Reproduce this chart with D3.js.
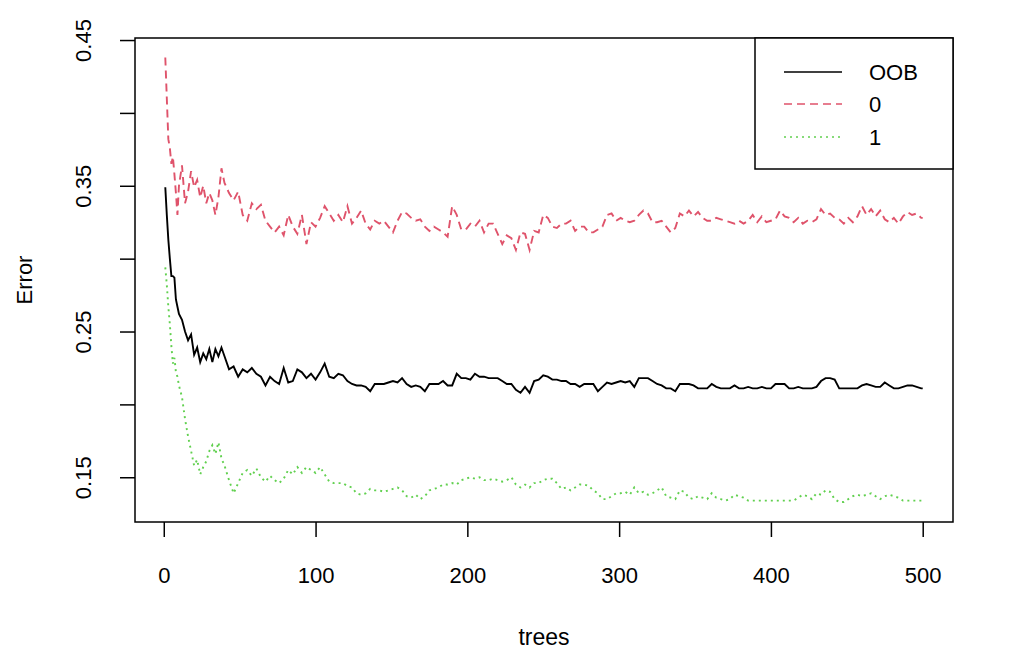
<!DOCTYPE html>
<html>
<head>
<meta charset="utf-8">
<script src="https://cdn.jsdelivr.net/npm/d3@7"></script>
<style>
  body { margin: 0; background: #fff; }
  text { font-family: "Liberation Sans", Arial, sans-serif; fill: #000; }
</style>
</head>
<body>
<svg id="chart"></svg>
<script>
var trees = [1,2,3,4,5,6,7,8,9,10,
  12,14,16,18,20,22,24,26,28,30,32,34,36,38,
  40,43,46,49,52,55,58,61,64,67,
  70,73,76,79,82,85,88,91,94,97,
  100,103,106,109,112,115,118,121,124,127,
  130,133,136,139,142,145,148,151,154,157,
  160,163,166,169,172,175,178,181,184,187,
  190,193,196,199,202,205,208,211,214,217,
  220,223,226,229,232,235,238,241,244,247,
  250,253,256,259,262,265,268,271,274,277,
  280,283,286,289,292,295,298,301,304,307,
  310,313,316,319,322,325,328,331,334,337,
  340,343,346,349,352,355,358,361,364,367,
  370,373,376,379,382,385,388,391,394,397,
  400,403,406,409,412,415,418,421,424,427,
  430,433,436,439,442,445,448,451,454,457,
  460,463,466,469,472,475,478,481,484,487,
  490,493,496,499,500];

// OOB error
var oob = [.349,.330,.313,.300,.288,.288,.287,.272,.267,.262,
  .258,.250,.244,.248,.234,.239,.229,.235,.231,.238,.229,.238,.233,.239,
  .233,.224,.226,.219,.224,.222,.225,.221,.219,.213,
  .219,.216,.214,.225,.215,.216,.224,.222,.218,.221,
  .217,.222,.228,.219,.218,.221,.220,.216,.214,.213,
  .213,.212,.209,.214,.214,.214,.215,.216,.215,.218,
  .214,.212,.213,.212,.209,.214,.214,.214,.216,.213,
  .213,.221,.218,.218,.217,.221,.219,.219,.218,.218,
  .218,.216,.214,.214,.210,.208,.212,.208,.216,.217,
  .220,.219,.217,.217,.216,.216,.214,.214,.212,.214,
  .214,.214,.209,.212,.215,.214,.215,.216,.215,.216,
  .212,.218,.218,.218,.216,.214,.213,.211,.211,.209,
  .214,.214,.214,.213,.211,.211,.211,.214,.212,.211,
  .211,.211,.213,.211,.211,.212,.211,.211,.212,.211,
  .211,.214,.214,.214,.211,.211,.212,.211,.211,.211,
  .212,.216,.218,.218,.217,.211,.211,.211,.211,.211,
  .213,.214,.213,.212,.212,.215,.213,.211,.211,.212,
  .213,.213,.212,.211,.211];

// class 0 error
var err0 = [.438,.410,.382,.376,.365,.370,.358,.345,.330,.350,
  .364,.338,.346,.360,.349,.354,.342,.350,.338,.345,.340,.330,.342,.362,
  .352,.345,.340,.346,.330,.326,.338,.334,.337,.326,
  .322,.318,.322,.316,.330,.322,.317,.330,.310,.325,
  .322,.328,.336,.331,.326,.330,.325,.336,.324,.328,
  .333,.324,.320,.326,.324,.326,.322,.318,.326,.332,
  .331,.328,.326,.327,.322,.319,.322,.320,.318,.315,
  .336,.330,.320,.320,.324,.322,.326,.318,.324,.324,
  .317,.310,.316,.314,.306,.318,.317,.306,.319,.318,
  .330,.328,.322,.321,.324,.324,.326,.319,.322,.322,
  .318,.318,.320,.322,.330,.331,.326,.328,.326,.325,
  .326,.330,.333,.331,.325,.325,.326,.322,.318,.321,
  .331,.329,.333,.329,.332,.328,.326,.326,.328,.327,
  .326,.325,.324,.326,.324,.326,.330,.325,.329,.325,
  .326,.327,.333,.329,.328,.325,.328,.324,.326,.325,
  .327,.334,.330,.331,.328,.327,.324,.328,.325,.329,
  .336,.330,.334,.329,.333,.327,.325,.328,.324,.329,
  .332,.330,.331,.328,.328];

// class 1 error
var err1 = [.294,.282,.267,.255,.240,.228,.232,.222,.219,.213,
  .205,.190,.178,.168,.158,.162,.152,.157,.161,.168,.172,.166,.174,.163,
  .158,.148,.139,.146,.153,.155,.151,.156,.150,.147,
  .151,.148,.146,.149,.155,.152,.157,.153,.157,.155,
  .153,.157,.152,.147,.146,.146,.146,.144,.143,.139,
  .138,.139,.142,.141,.141,.140,.141,.142,.143,.141,
  .137,.136,.138,.135,.137,.141,.142,.143,.145,.145,
  .146,.145,.148,.149,.150,.149,.150,.148,.148,.149,
  .148,.147,.148,.150,.145,.143,.145,.143,.146,.146,
  .148,.149,.149,.146,.142,.143,.141,.143,.145,.145,
  .144,.141,.139,.135,.135,.137,.139,.139,.140,.138,
  .143,.139,.140,.138,.139,.141,.143,.137,.136,.135,
  .141,.140,.136,.135,.137,.136,.135,.139,.136,.135,
  .134,.135,.138,.137,.136,.134,.134,.134,.134,.134,
  .134,.134,.134,.134,.134,.134,.136,.138,.137,.135,
  .139,.138,.141,.140,.135,.133,.133,.135,.137,.138,
  .137,.138,.139,.137,.135,.137,.138,.137,.136,.134,
  .134,.134,.134,.134,.134];

var seriesNames = ["OOB", "0", "1"];
var seriesColors = ["#000000", "#DF536B", "#61D04F"];
var seriesDash = [null, "8,5", "2,4"];
var xTicks = [0, 100, 200, 300, 400, 500];
var yTicks = [0.15, 0.20, 0.25, 0.30, 0.35, 0.40, 0.45];
var yLabels = [0.15, 0.25, 0.35, 0.45];

var svgWidth = 1024, svgHeight = 656;
// plot box edges (window.top is read-only, so no "top" here)
var boxLeft = 135, boxRight = 953, boxTop = 38, boxBottom = 522;

var svg = d3.select("#chart")
  .attr("width", svgWidth)
  .attr("height", svgHeight);

// R pads the data range by 4% on each side
var xPad = (500 - 1) * 0.04;
var xScale = d3.scaleLinear()
  .domain([1 - xPad, 500 + xPad])
  .range([boxLeft, boxRight]);

var yScale = d3.scaleLinear()
  .domain([0.1193, 0.4514])
  .range([boxBottom, boxTop]);

// axes, R style: ticks outside, no domain line (box drawn separately)
var xAxis = d3.axisBottom(xScale)
  .tickValues(xTicks)
  .tickSize(15)
  .tickPadding(30)
  .tickFormat(d3.format("d"));

var gx = svg.append("g")
  .attr("class", "x axis")
  .attr("transform", "translate(0," + boxBottom + ")")
  .call(xAxis);
gx.select(".domain").remove();
gx.selectAll("line").attr("stroke", "#000").attr("stroke-width", 1.5);
gx.selectAll("text").attr("font-size", "22px").attr("fill", "#000");

var yAxis = d3.axisLeft(yScale)
  .tickValues(yTicks)
  .tickSize(15)
  .tickFormat(function(d) {
    return yLabels.some(function(v) { return Math.abs(v - d) < 1e-9; }) ? d3.format(".2f")(d) : "";
  });

var gy = svg.append("g")
  .attr("class", "y axis")
  .attr("transform", "translate(" + boxLeft + ",0)")
  .call(yAxis);
gy.select(".domain").remove();
gy.selectAll("line").attr("stroke", "#000").attr("stroke-width", 1.5);
gy.selectAll("text")
  .attr("font-size", "22px")
  .attr("fill", "#000")
  .attr("text-anchor", "middle")
  .attr("x", 0).attr("dy", 0)
  .attr("transform", "translate(-44,0) rotate(-90)");

// box
svg.append("rect")
  .attr("x", boxLeft).attr("y", boxTop)
  .attr("width", boxRight - boxLeft).attr("height", boxBottom - boxTop)
  .attr("fill", "none").attr("stroke", "#000").attr("stroke-width", 1.5);

// axis titles
svg.append("text")
  .attr("x", (boxLeft + boxRight) / 2).attr("y", 645)
  .attr("text-anchor", "middle")
  .attr("font-size", "23px")
  .text("trees");

svg.append("text")
  .attr("transform", "translate(32," + (boxTop + boxBottom) / 2 + ") rotate(-90)")
  .attr("text-anchor", "middle")
  .attr("font-size", "22px")
  .text("Error");

// lines
var line = d3.line()
  .x(function(d) { return xScale(d[0]); })
  .y(function(d) { return yScale(d[1]); });

var series = [oob, err0, err1];
// draw 1 first, then 0, then OOB on top
[2, 1, 0].forEach(function(k) {
  svg.append("path")
    .datum(trees.map(function(t, i) { return [t, series[k][i]]; }))
    .attr("d", line)
    .attr("fill", "none")
    .attr("stroke", seriesColors[k])
    .attr("stroke-width", 1.9)
    .attr("stroke-dasharray", seriesDash[k]);
});

// legend
var lg = svg.append("g").attr("class", "legend");
lg.append("rect")
  .attr("x", 755).attr("y", boxTop)
  .attr("width", boxRight - 755).attr("height", 169 - boxTop)
  .attr("fill", "#fff").attr("stroke", "#000").attr("stroke-width", 1.5);

var legendY = [72, 104, 137];
seriesNames.forEach(function(name, i) {
  lg.append("line")
    .attr("x1", 784).attr("x2", 842)
    .attr("y1", legendY[i]).attr("y2", legendY[i])
    .attr("stroke", seriesColors[i])
    .attr("stroke-width", 1.6)
    .attr("stroke-dasharray", seriesDash[i]);
  lg.append("text")
    .attr("x", 869).attr("y", legendY[i])
    .attr("dy", "0.35em")
    .attr("font-size", "22px")
    .text(name);
});
</script>
</body>
</html>
